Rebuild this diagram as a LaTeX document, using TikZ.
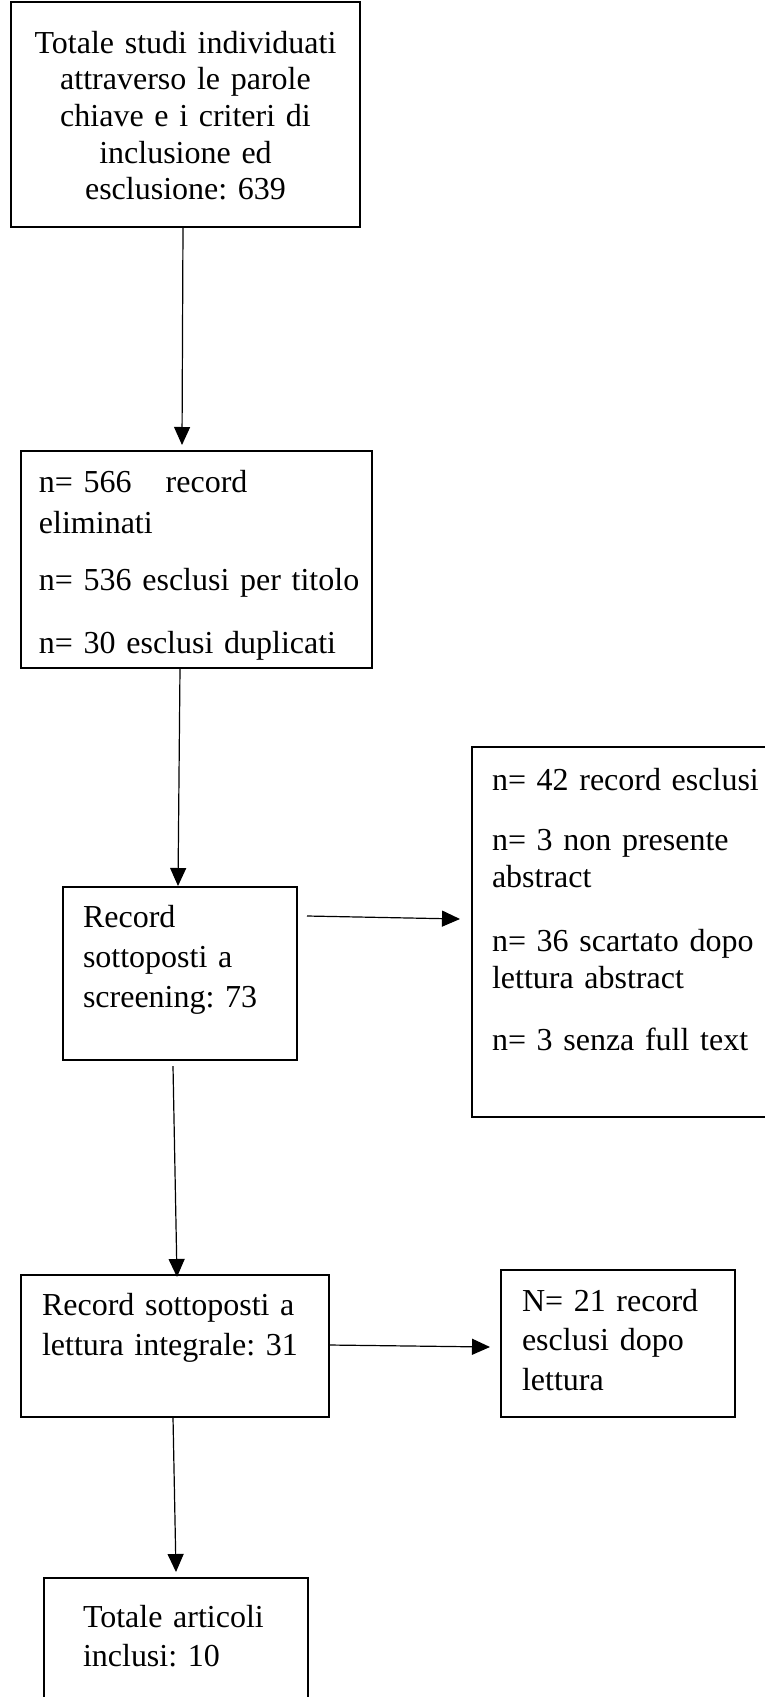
\documentclass[tikz,border=0pt]{standalone}
\usepackage{fontspec}
\setmainfont{Liberation Serif}
\frenchspacing
\usetikzlibrary{arrows.meta, positioning}

\tikzset{
  flowbox/.style={draw, line width=0.65pt, anchor=north west, align=left, inner ysep=0pt, outer sep=0pt},
  flowarrow/.style={-{Triangle[width=8pt,length=9pt]}, line width=0.6pt}
}

\begin{document}
\begin{tikzpicture}[x=0.5pt, y=-0.5pt]
\useasboundingbox (0,0) rectangle (765,1697);

% boxes, top to bottom
\node [flowbox, align=center, text width=160pt, inner xsep=7.25pt, text height=25.5pt, text depth=87pt, font=\fontsize{16}{18.35}\selectfont] (tot) at (11,2) {Totale studi individuati\\attraverso le parole\\chiave e i criteri di\\inclusione ed\\esclusione: 639};
\node [flowbox, text width=157.5pt, inner xsep=9pt, text height=20.5pt, text depth=88pt, font=\fontsize{16}{20.5}\selectfont] (elim) at (21,451) {n= 566\hspace{17pt}record\\eliminati\\[8pt]\mbox{n= 536 esclusi per titolo}\\[11pt]\mbox{n= 30 esclusi duplicati}};
\node [flowbox, text width=97pt, inner xsep=10pt, text height=20pt, text depth=66.5pt, font=\fontsize{16}{20}\selectfont] (screen) at (63,887) {Record\\sottoposti a\\screening: 73};
\node [flowbox, text width=144pt, inner xsep=10pt, text height=21.5pt, text depth=163.5pt, font=\fontsize{16}{18.5}\selectfont] (excl) at (472,747) {\mbox{n= 42 record esclusi}\\[11.5pt]n= 3 non presente\\abstract\\[13.5pt]\mbox{n= 36 scartato dopo}\\lettura abstract\\[12.5pt]\mbox{n= 3 senza full text}};
\node [flowbox, text width=133pt, inner xsep=10.5pt, text height=20pt, text depth=51pt, font=\fontsize{16}{20}\selectfont] (integ) at (21,1275) {Record sottoposti a\\lettura integrale: 31};
\node [flowbox, text width=96pt, inner xsep=10.5pt, text height=20.5pt, text depth=53pt, font=\fontsize{16}{19.75}\selectfont] (excl2) at (501,1270) {N= 21 record\\esclusi dopo\\lettura};
\node [flowbox, text width=93pt, inner xsep=19.5pt, text height=24.5pt, text depth=66.5pt, font=\fontsize{16}{19.5}\selectfont] (incl) at (44,1578) {Totale articoli\\inclusi: 10};

% arrows
\draw [flowarrow] ([xshift=86pt]tot.south west) -- ([shift={(80.5pt,3pt)}]elim.north west);
\draw [flowarrow] ([xshift=79.5pt]elim.south west) -- ([shift={(57.5pt,0.5pt)}]screen.north west);
\draw [flowarrow] ([shift={(5pt,-14.5pt)}]screen.north east) -- ([shift={(-6pt,-86pt)}]excl.north west);
\draw [flowarrow] ([shift={(55pt,-3pt)}]screen.south west) -- ([shift={(78pt,-1pt)}]integ.north west);
\draw [flowarrow] ([yshift=-35pt]integ.north east) -- ([shift={(-5.5pt,-38.5pt)}]excl2.north west);
\draw [flowarrow] ([xshift=76pt]integ.south west) -- ([shift={(66pt,3pt)}]incl.north west);
\end{tikzpicture}
\end{document}
